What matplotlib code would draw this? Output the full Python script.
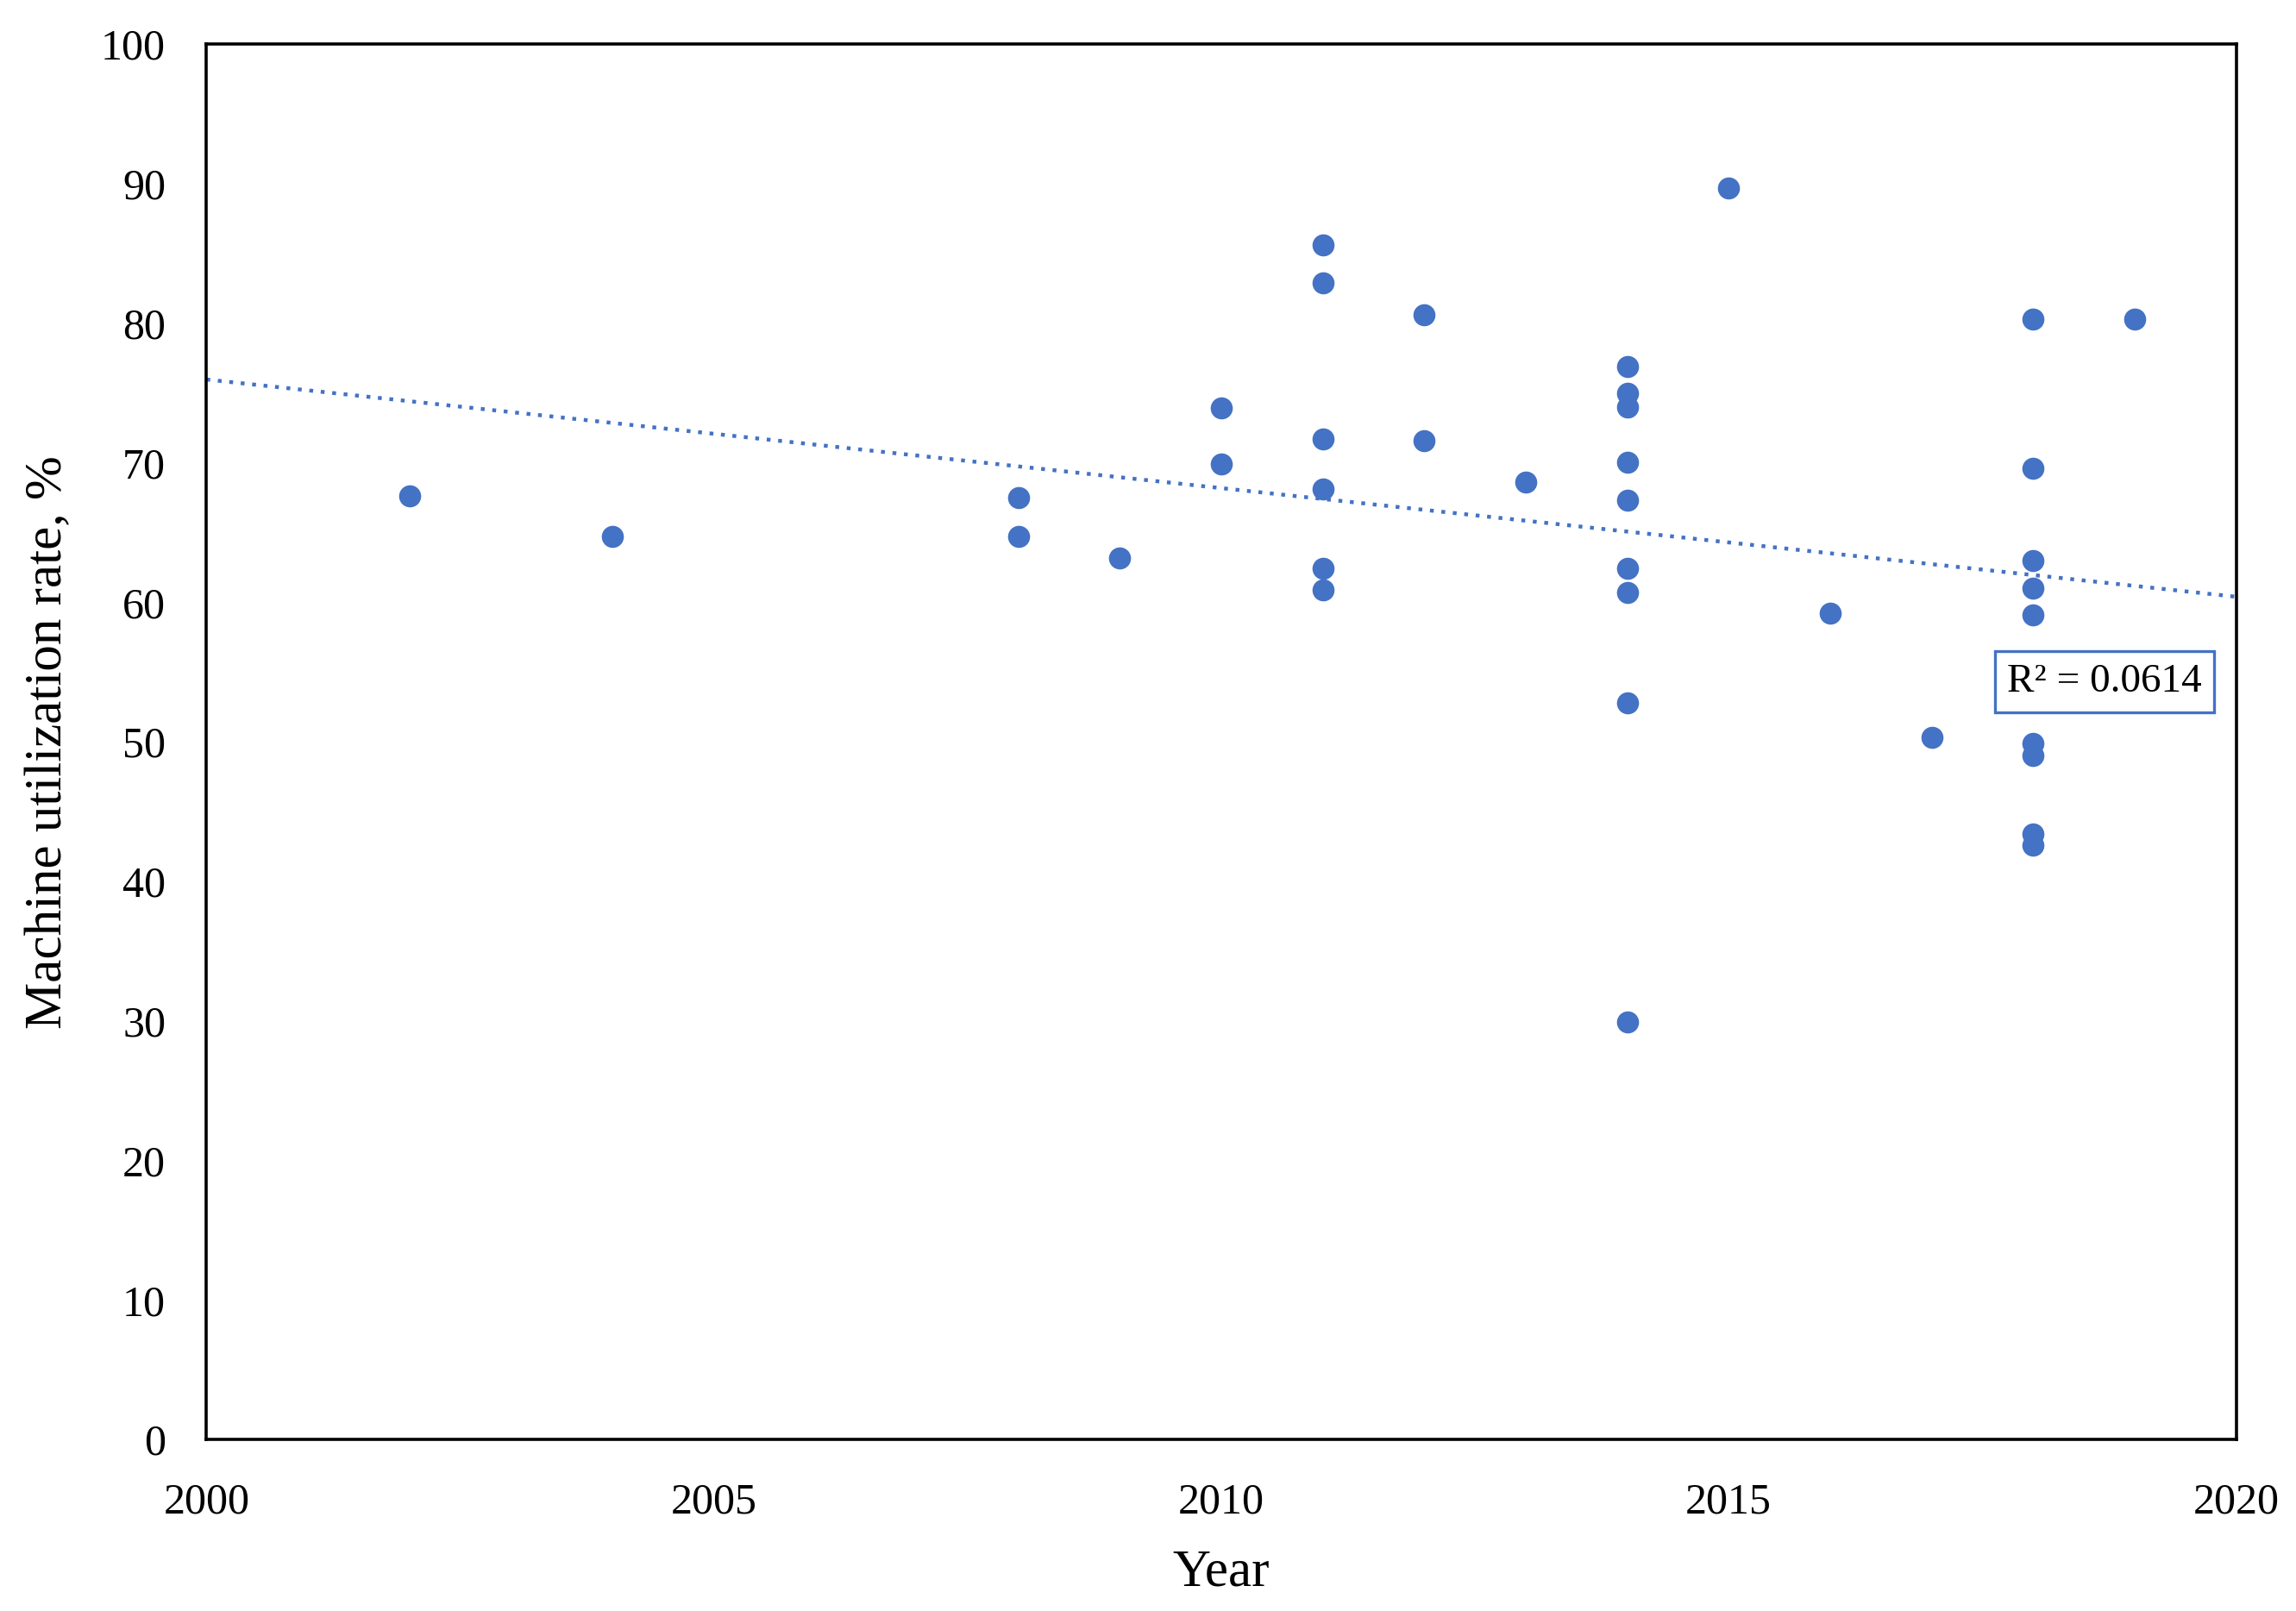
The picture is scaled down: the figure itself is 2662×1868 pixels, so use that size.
import numpy as np
import matplotlib.pyplot as plt

# Data
years = [2002, 2004, 2008, 2008, 2009, 2010, 2010,
         2011, 2011, 2011, 2011, 2011, 2011,
         2012, 2012, 2013,
         2014, 2014, 2014, 2014, 2014, 2014, 2014, 2014, 2014,
         2015, 2016, 2017,
         2018, 2018, 2018, 2018, 2018, 2018, 2018, 2018, 2018,
         2019]
rate = [67.6, 64.7, 67.5, 64.7, 63.2, 73.9, 69.9,
        85.6, 82.9, 71.7, 68.1, 62.4, 60.9,
        80.6, 71.6, 68.6,
        76.9, 75.0, 74.0, 70.0, 67.3, 62.4, 60.7, 52.8, 29.9,
        89.7, 59.2, 50.3,
        80.3, 69.6, 63.0, 61.0, 59.1, 49.9, 49.0, 43.4, 42.6,
        80.3]
r2_text = 'R² = 0.0614'

blue = '#4472C4'
plt.rcParams['font.family'] = ['Liberation Serif', 'DejaVu Serif']

fig = plt.figure(figsize=(13.31, 9.34), dpi=200)
ax = fig.add_axes([0.0899, 0.1064, 0.884, 0.8663])

ax.scatter(years, rate, s=85, color=blue, zorder=3, linewidths=0)

# linear trend line
k, b = np.polyfit(years, rate, 1)
xt = np.array([2000, 2020])
ax.plot(xt, k * xt + b, linestyle=(0, (1, 2)), color=blue, linewidth=1.6, zorder=2)

ax.text(2018.7, 54.3, r2_text, ha='center', va='center', fontsize=17,
        bbox=dict(boxstyle='square,pad=0.3', facecolor='white', edgecolor=blue, linewidth=1.2))

ax.set_xlim(2000, 2020)
ax.set_ylim(0, 100)
ax.set_xticks([2000, 2005, 2010, 2015, 2020])
ax.set_yticks(range(0, 101, 10))
ax.tick_params(length=0, labelsize=18)
ax.tick_params(axis='x', pad=18)
ax.tick_params(axis='y', pad=17)
for s in ax.spines.values():
    s.set_linewidth(1.3)

ax.set_xlabel('Year', fontsize=22, labelpad=11)
ax.set_ylabel('Machine utilization rate, %', fontsize=22, labelpad=12)

plt.savefig('out.png', dpi=200)
